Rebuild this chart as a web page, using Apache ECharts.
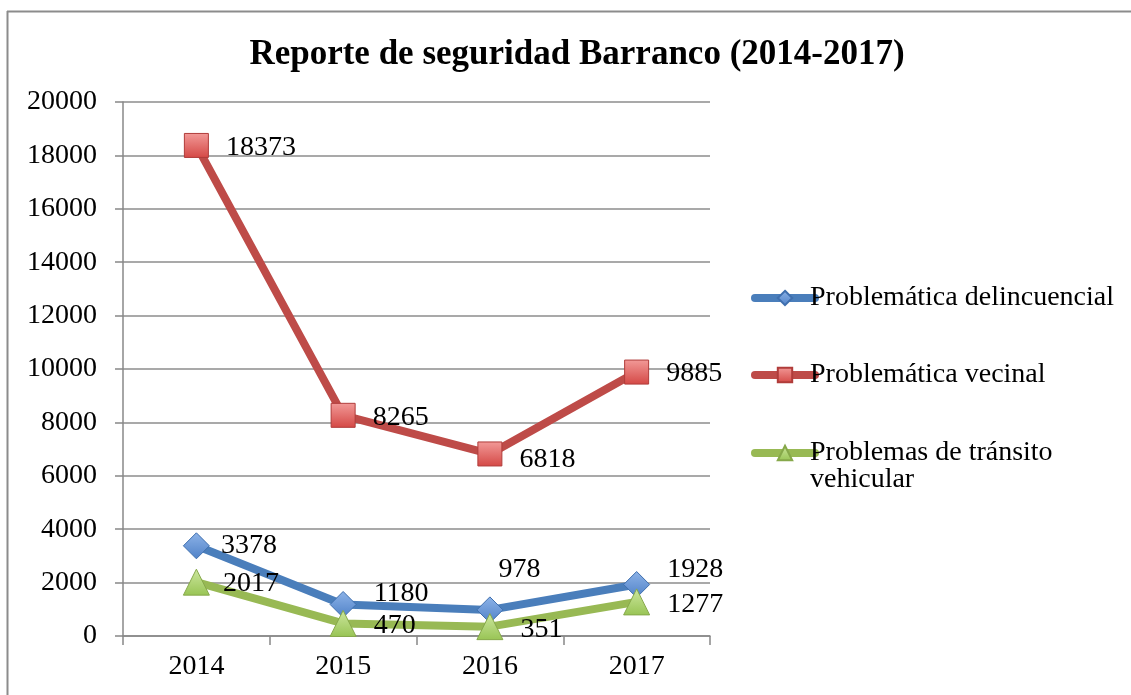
<!DOCTYPE html>
<html>
<head>
<meta charset="utf-8">
<script src="https://cdn.jsdelivr.net/npm/echarts@6/dist/echarts.min.js"></script>
<style>
html,body{margin:0;padding:0;background:#fff;}
#chart{width:1131px;height:695px;}
</style>
</head>
<body>
<div id="chart"></div>
<script>
var title = 'Reporte de seguridad Barranco (2014-2017)';
var categories = ['2014', '2015', '2016', '2017'];
var seriesNames = ['Problemática delincuencial', 'Problemática vecinal', 'Problemas de tránsito vehicular'];
var delincuencial = [3378, 1180, 978, 1928];
var vecinal = [18373, 8265, 6818, 9885];
var transito = [2017, 470, 351, 1277];
var yTicks = [0, 2000, 4000, 6000, 8000, 10000, 12000, 14000, 16000, 18000, 20000];

var FONT = '"Liberation Serif", "DejaVu Serif", serif';
var FS = 28;
var chart = echarts.init(document.getElementById('chart'), null, {renderer: 'canvas'});

function grad(c1, c2) {
  return new echarts.graphic.LinearGradient(0, 0, 0, 1, [{offset: 0, color: c1}, {offset: 1, color: c2}]);
}

// per-point label offsets (manual label placement in the reference)
var offsDel = [[-6, 0], [0, -11], [-22, -40], [0, -15]];
var offsVec = [[0, 2], [0, 2], [0, 6], [0, 2]];
var offsTra = [[-4, 1], [0, 2], [0, 3], [0, 3]];

function mkData(vals, offs) {
  return vals.map(function (v, i) {
    return {value: v, label: {offset: offs[i]}};
  });
}

function mkSeries(name, vals, offs, color, symbol, symbolSize, g1, g2, border) {
  return {
    name: name,
    type: 'line',
    data: mkData(vals, offs),
    symbol: symbol,
    symbolSize: symbolSize,
    lineStyle: {color: color, width: 8},
    itemStyle: {color: grad(g1, g2), borderColor: border, borderWidth: 1},
    label: {
      show: true, position: 'right', distance: 17,
      fontFamily: FONT, fontSize: FS, color: '#000'
    },
    emphasis: {disabled: true},
    z: 3
  };
}

var legendBase = {
  orient: 'vertical',
  left: 746,
  itemWidth: 60,
  itemHeight: 18,
  itemGap: 0,
  lineStyle: {width: 8, cap: 'round'},
  textStyle: {fontFamily: FONT, fontSize: FS, color: '#000', padding: [0, 0, 0, -10]},
  selectedMode: false
};

var option = {
  animation: false,
  backgroundColor: '#fff',
  title: {
    text: title,
    left: 572,
    textAlign: 'center',
    top: 32,
    textStyle: {fontFamily: FONT, fontWeight: 'bold', fontSize: 35, color: '#000'}
  },
  legend: [
    Object.assign({}, legendBase, {top: 279, data: [seriesNames[0]]}),
    Object.assign({}, legendBase, {top: 356, data: [seriesNames[1]]}),
    Object.assign({}, legendBase, {top: 434, data: [seriesNames[2]],
      formatter: function () { return 'Problemas de tránsito'; }})
  ],
  graphic: [
    {type: 'line', shape: {x1: 7, y1: 11.5, x2: 1131, y2: 11.5}, style: {stroke: '#8c8c8c', lineWidth: 2}},
    {type: 'line', shape: {x1: 7.5, y1: 11, x2: 7.5, y2: 695}, style: {stroke: '#8c8c8c', lineWidth: 2}},
    {type: 'text', left: 810, top: 466, style: {text: 'vehicular', font: FS + 'px ' + FONT, fill: '#000'}}
  ],
  grid: {left: 123, right: 421, top: 102, bottom: 59, containLabel: false},
  xAxis: {
    type: 'category',
    data: categories,
    boundaryGap: true,
    axisLine: {lineStyle: {color: '#888', width: 1.5}},
    axisTick: {show: true, length: 9, lineStyle: {color: '#888', width: 1.5}},
    axisLabel: {fontFamily: FONT, fontSize: FS, color: '#000', margin: 17}
  },
  yAxis: {
    type: 'value',
    min: yTicks[0],
    max: yTicks[yTicks.length - 1],
    interval: yTicks[1] - yTicks[0],
    axisLine: {show: true, lineStyle: {color: '#888', width: 1.5}},
    axisTick: {show: true, length: 8, lineStyle: {color: '#888', width: 1.5}},
    splitLine: {show: true, lineStyle: {color: '#8c8c8c', width: 1.5}},
    axisLabel: {fontFamily: FONT, fontSize: FS, color: '#000', margin: 26,
      formatter: function (v) { return String(v); }}
  },
  series: [
    mkSeries(seriesNames[0], delincuencial, offsDel, '#4A7EBB', 'diamond', 26, '#8db3e8', '#4f81c7', '#3f6fae'),
    mkSeries(seriesNames[1], vecinal, offsVec, '#BE4B48', 'rect', 24, '#f29a98', '#d44845', '#b03c3a'),
    mkSeries(seriesNames[2], transito, offsTra, '#98B954', 'triangle', 26, '#cde79f', '#98c454', '#86a84a')
  ]
};
chart.setOption(option);
</script>
</body>
</html>
